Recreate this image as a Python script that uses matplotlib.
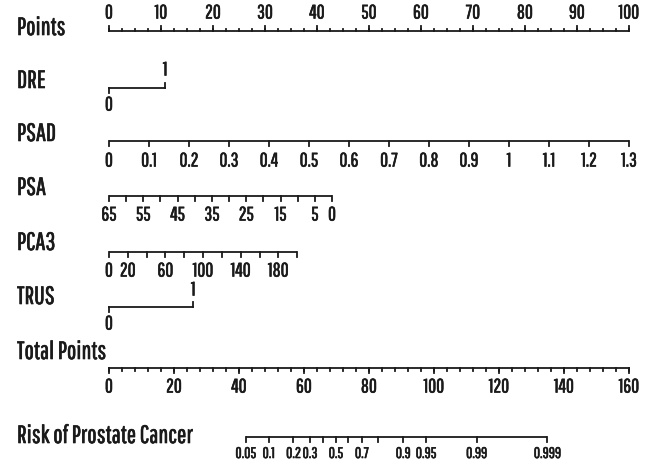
import numpy as np
import matplotlib
matplotlib.use("Agg")
import matplotlib.pyplot as plt
import matplotlib.patheffects as pe

# ---------------- data ----------------
points_ticks = np.arange(0, 101, 10)
points_minor = np.arange(0, 100.01, 2.5)

dre_levels = [0, 1]
dre_points = [0, 10.8]

psad_ticks = np.round(np.arange(0, 1.301, 0.1), 1)
psad_labels = ["0", "0.1", "0.2", "0.3", "0.4", "0.5", "0.6", "0.7", "0.8", "0.9", "1", "1.1", "1.2", "1.3"]
psad_max_points = 100.0
psad_max = 1.3

psa_ticks = np.arange(0, 66, 5)
psa_label_vals = [65, 55, 45, 35, 25, 15, 5, 0]
psa_max_points = 42.9
psa_max = 65

pca3_ticks = np.arange(0, 201, 20)
pca3_label_vals = [0, 20, 60, 100, 140, 180]
pca3_max_points = 36.2
pca3_max = 200

trus_levels = [0, 1]
trus_points = [0, 16.2]

total_ticks = np.arange(0, 161, 20)
total_minor = np.arange(0, 160.01, 4)
total_max = 160

risk_ticks = [0.05, 0.1, 0.2, 0.3, 0.4, 0.5, 0.6, 0.7, 0.8, 0.9, 0.95, 0.99, 0.999]
risk_labels = ["0.05", "0.1", "0.2", "0.3", "", "0.5", "", "0.7", "", "0.9", "0.95", "0.99", "0.999"]
risk_intercept = 69.8   # total points at logit 0
risk_slope = 9.42       # total points per logit unit

# ---------------- helpers ----------------
FONT = ["Pathway Gothic One", "Antonio", "Alumni Sans", "Oswald", "DejaVu Sans"]
plt.rcParams['font.family'] = FONT

W, H = 652, 463
fig = plt.figure(figsize=(W / 100, H / 100), dpi=100)
ax = fig.add_axes([0, 0, 1, 1])
px_per_pt = 5.2
x0 = 109
ax.set_xlim(-x0 / px_per_pt, (W - x0) / px_per_pt)
ax.set_ylim(H, 0)
ax.axis("off")

LW = 1.3
C = "#1a1a1a"
NAME_FS = 18
TICK_FS = 14
BOLD = [pe.withStroke(linewidth=0.45, foreground=C)]

def total_to_x(t):
    return np.asarray(t) * 100.0 / total_max

def txt(x, y, s, fs, ha="center"):
    ax.text(x, y, s, ha=ha, va="center", fontsize=fs, color=C, path_effects=BOLD)

def draw_axis(xs, y, major_xs, labels, direction, minor_xs=None, label_fs=TICK_FS,
              major_len=6, minor_len=3, label_off=14):
    ax.plot([min(xs), max(xs)], [y, y], color=C, lw=LW, solid_capstyle="butt")
    sgn = 1 if direction == "down" else -1
    if minor_xs is not None:
        for mx in minor_xs:
            ax.plot([mx, mx], [y, y + sgn * minor_len], color=C, lw=LW)
    for mx in major_xs:
        ax.plot([mx, mx], [y, y + sgn * major_len], color=C, lw=LW)
    for mx, lab in labels:
        txt(mx, y + sgn * label_off, lab, label_fs)

def name(y, s):
    txt(-x0 / px_per_pt + 17 / px_per_pt, y, s, NAME_FS, ha="left")

# Points
y = 31
draw_axis(points_ticks, y, points_ticks, [(v, str(v)) for v in points_ticks], "up",
          minor_xs=points_minor, major_len=5, minor_len=2.5, label_off=18)
name(28, "Points")

# DRE
y = 88
xs = dre_points
ax.plot([xs[0], xs[1]], [y, y], color=C, lw=LW)
ax.plot([xs[0], xs[0]], [y, y + 5], color=C, lw=LW)
ax.plot([xs[1], xs[1]], [y, y - 5], color=C, lw=LW)
txt(xs[0], y + 17, str(dre_levels[0]), TICK_FS)
txt(xs[1], y - 18, str(dre_levels[1]), TICK_FS)
name(81, "DRE")

# PSAD
y = 141
xs = psad_ticks * psad_max_points / psad_max
draw_axis(xs, y, xs, list(zip(xs, psad_labels)), "down", major_len=5, label_off=20)
name(134, "PSAD")

# PSA
y = 196
xs = (psa_max - psa_ticks) * psa_max_points / psa_max
lab_x = [(psa_max - v) * psa_max_points / psa_max for v in psa_label_vals]
draw_axis(xs, y, xs, list(zip(lab_x, [str(v) for v in psa_label_vals])), "down",
          major_len=5, label_off=19)
name(188, "PSA")

# PCA3
y = 252
xs = pca3_ticks * pca3_max_points / pca3_max
lab_x = [v * pca3_max_points / pca3_max for v in pca3_label_vals]
draw_axis(xs, y, xs, list(zip(lab_x, [str(v) for v in pca3_label_vals])), "down",
          major_len=5, label_off=19)
name(243, "PCA3")

# TRUS
y = 307
xs = trus_points
ax.plot([xs[0], xs[1]], [y, y], color=C, lw=LW)
ax.plot([xs[0], xs[0]], [y, y + 5], color=C, lw=LW)
ax.plot([xs[1], xs[1]], [y, y - 5], color=C, lw=LW)
txt(xs[0], y + 17, str(trus_levels[0]), TICK_FS)
txt(xs[1], y - 17, str(trus_levels[1]), TICK_FS)
name(297, "TRUS")

# Total Points
y = 368
xs = total_to_x(total_ticks)
draw_axis(xs, y, xs, list(zip(xs, [str(v) for v in total_ticks])), "down",
          minor_xs=total_to_x(total_minor), major_len=5, minor_len=2.5, label_off=19)
name(352, "Total Points")

# Risk
y = 437
rt = np.array(risk_ticks)
tot = risk_intercept + risk_slope * np.log(rt / (1 - rt))
xs = total_to_x(tot)
draw_axis(xs, y, xs, list(zip(xs, risk_labels)), "down", label_fs=11,
          major_len=5, label_off=17)
name(436, "Risk of Prostate Cancer")

fig.savefig("out.png", dpi=100, facecolor="white")
